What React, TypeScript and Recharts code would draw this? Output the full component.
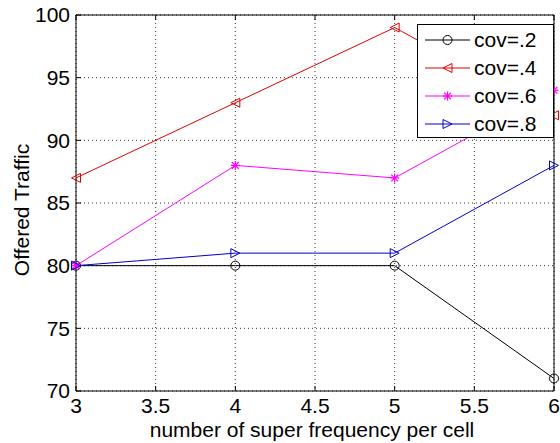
import React from "react";
import { LineChart, Line, XAxis, YAxis, CartesianGrid, Label } from "recharts";

// Valores (Offered Traffic vs número de super frecuencias)
const xs = [3, 4, 5, 6];
const cov2 = [80, 80, 80, 71];
const cov4 = [87, 93, 99, 92];
const cov6 = [80, 88, 87, 94];
const cov8 = [80, 81, 81, 88];
const xTicks = [3, 3.5, 4, 4.5, 5, 5.5, 6];
const yTicks = [70, 75, 80, 85, 90, 95, 100];

type Shape = "circle" | "tri-left" | "star" | "tri-right";
type Serie = { key: string; label: string; color: string; shape: Shape; values: number[] };

const SERIES: Serie[] = [
  { key: "c2", label: "cov=.2", color: "#000000", shape: "circle", values: cov2 },
  { key: "c4", label: "cov=.4", color: "#e00000", shape: "tri-left", values: cov4 },
  { key: "c6", label: "cov=.6", color: "#ff00ff", shape: "star", values: cov6 },
  { key: "c8", label: "cov=.8", color: "#0000d0", shape: "tri-right", values: cov8 },
];

const data = xs.map((x, i) => {
  const row: Record<string, number> = { x };
  SERIES.forEach((s) => (row[s.key] = s.values[i]));
  return row;
});

const FONT = '"Liberation Sans", Arial, sans-serif';
const FS = 21;

function Marker({ cx, cy, shape, color }: { cx: number; cy: number; shape: Shape; color: string }) {
  const r = 4.5;
  if (shape === "circle") return <circle cx={cx} cy={cy} r={r} fill="none" stroke={color} strokeWidth={1} />;
  if (shape === "tri-left")
    return <polygon points={`${cx - r},${cy} ${cx + r},${cy - r} ${cx + r},${cy + r}`} fill="none" stroke={color} strokeWidth={1} />;
  if (shape === "tri-right")
    return <polygon points={`${cx + r},${cy} ${cx - r},${cy - r} ${cx - r},${cy + r}`} fill="none" stroke={color} strokeWidth={1} />;
  const d = r * 0.75;
  return (
    <g stroke={color} strokeWidth={1.2}>
      <line x1={cx - r} y1={cy} x2={cx + r} y2={cy} />
      <line x1={cx} y1={cy - r} x2={cx} y2={cy + r} />
      <line x1={cx - d} y1={cy - d} x2={cx + d} y2={cy + d} />
      <line x1={cx - d} y1={cy + d} x2={cx + d} y2={cy - d} />
    </g>
  );
}

const makeDot = (s: Serie) => (p: any) =>
  <Marker key={`${s.key}-${p.index}`} cx={p.cx} cy={p.cy} shape={s.shape} color={s.color} />;

const hideTick = () => <g />;

export default function App() {
  return (
    <div style={{ position: "absolute", left: 0, top: 0, width: 560, height: 443, background: "#fff" }}>
      <LineChart width={560} height={443} data={data} margin={{ top: 14, right: 5, bottom: 0, left: 0 }}>
        <CartesianGrid xAxisId="b" yAxisId="l" stroke="#000" strokeDasharray="1 3" strokeWidth={0.8} />
        <XAxis
          xAxisId="b" dataKey="x" type="number" domain={[3, 6]} ticks={xTicks} height={52}
          tickSize={-5} tickMargin={12} stroke="#000" interval={0}
          tick={{ fill: "#000", fontSize: FS, fontFamily: FONT }}
          tickFormatter={(v) => String(v)}
        >
          <Label
            content={() => (
              <text x={312} y={437} textAnchor="middle" fontSize={FS} fontFamily={FONT} fill="#000">
                number of super frequency per cell
              </text>
            )}
          />
        </XAxis>
        <XAxis xAxisId="t" dataKey="x" type="number" domain={[3, 6]} ticks={xTicks} orientation="top" height={1}
          tickSize={-5} stroke="#000" tick={hideTick} />
        <YAxis
          yAxisId="l" type="number" domain={[70, 100]} ticks={yTicks} width={76}
          tickSize={-5} tickMargin={11} stroke="#000" interval={0}
          tick={{ fill: "#000", fontSize: FS, fontFamily: FONT }}
        >
          <Label
            content={() => (
              <text x={29} y={210} transform="rotate(-90 29 210)" textAnchor="middle" fontSize={FS} fontFamily={FONT} fill="#000">
                Offered Traffic
              </text>
            )}
          />
        </YAxis>
        <YAxis yAxisId="r" type="number" domain={[70, 100]} ticks={yTicks} orientation="right" width={1}
          tickSize={-5} stroke="#000" tick={hideTick} />
        {SERIES.map((s) => (
          <Line
            key={s.key} xAxisId="b" yAxisId="l" dataKey={s.key} type="linear"
            stroke={s.color} strokeWidth={1} dot={makeDot(s)} activeDot={false}
            isAnimationActive={false}
          />
        ))}
      </LineChart>
      <div style={{ position: "absolute", left: 417, top: 24 }}>
        <svg width={137} height={114}>
          <rect x={0.5} y={0.5} width={136} height={113} fill="#fff" stroke="#000" strokeWidth={1} />
          {SERIES.map((s, i) => {
            const y = 16 + i * 28;
            return (
              <g key={s.key}>
                <line x1={8} y1={y} x2={53} y2={y} stroke={s.color} strokeWidth={1} />
                <Marker cx={30.5} cy={y} shape={s.shape} color={s.color} />
                <text x={57} y={y + 7} fontSize={FS} fontFamily={FONT} fill="#000">{s.label}</text>
              </g>
            );
          })}
        </svg>
      </div>
    </div>
  );
}
